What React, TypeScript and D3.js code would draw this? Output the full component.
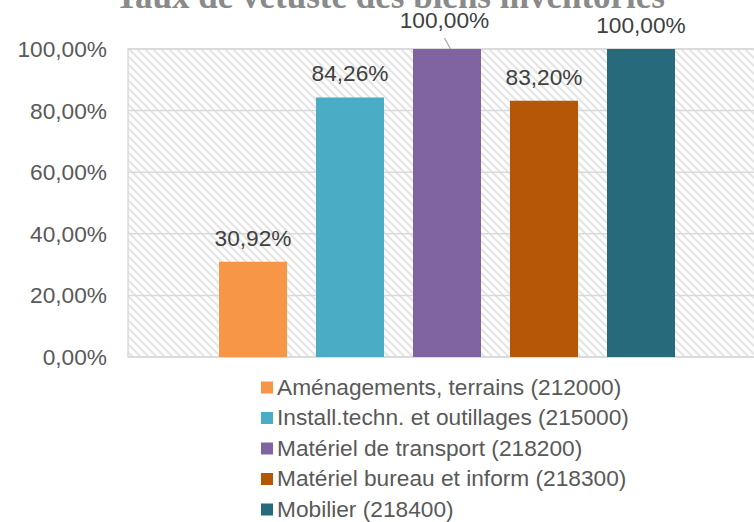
import React from "react";
import * as d3 from "d3";

const series = [
  "Aménagements, terrains (212000)",
  "Install.techn. et outillages (215000)",
  "Matériel de transport (218200)",
  "Matériel bureau et inform (218300)",
  "Mobilier (218400)",
];
const values = [0.3092, 0.8426, 1.0, 0.832, 1.0];
const colors = ["#F79646", "#4BACC6", "#8064A2", "#B65708", "#276A7C"];
const yTicks = [0, 0.2, 0.4, 0.6, 0.8, 1.0];
const title = "Taux de vétusté des biens inventoriés";

const W = 754;
const H = 522;
const plot = { left: 128, right: 767, top: 49, bottom: 357 };
const font = "Arial, 'Liberation Sans', sans-serif";
const fs = 22.7;

const fmt = (v: number) => (v * 100).toFixed(2).replace(".", ",") + "%";

export default function App() {
  const y = d3.scaleLinear().domain([0, 1]).range([plot.bottom, plot.top]);
  const x = d3
    .scaleBand<string>()
    .domain(series)
    .range([204.5, 689.5])
    .paddingInner(29 / 97)
    .paddingOuter(14.5 / 97);

  // the label of the third bar was dragged up in the original, with a leader line
  const nudge = (i: number) => (i === 2 ? { dx: -2.5, dy: -5 } : { dx: 0, dy: 0 });

  return (
    <svg
      width={W}
      height={H}
      style={{ position: "absolute", left: 0, top: 0, background: "#fff" }}
    >
      <defs>
        <pattern id="hatch" width={8} height={8} patternUnits="userSpaceOnUse">
          <rect width={8} height={8} fill="#fff" />
          <path d="M-2,-2 L10,10 M-2,6 L2,10 M6,-2 L10,2" stroke="#e4e4e4" strokeWidth={2} />
        </pattern>
      </defs>

      <text
        x={390}
        y={8}
        textAnchor="middle"
        fontFamily="'Liberation Serif', 'Times New Roman', serif"
        fontWeight="bold"
        fontSize={35}
        fill="#8a8a8a"
      >
        {title}
      </text>

      <rect
        x={plot.left}
        y={plot.top}
        width={plot.right - plot.left}
        height={plot.bottom - plot.top}
        fill="url(#hatch)"
        stroke="#d9d9d9"
        strokeWidth={1.5}
      />

      {yTicks.map((t) => (
        <g key={t}>
          <line
            x1={plot.left}
            x2={plot.right}
            y1={y(t)}
            y2={y(t)}
            stroke="#d9d9d9"
            strokeWidth={1.5}
          />
          <text
            x={107}
            y={y(t) + 8}
            textAnchor="end"
            fontFamily={font}
            fontSize={fs}
            fill="#595959"
          >
            {fmt(t)}
          </text>
        </g>
      ))}

      {series.map((s, i) => {
        const bx = x(s)!;
        const cx = bx + x.bandwidth() / 2;
        const n = nudge(i);
        return (
          <g key={s}>
            <rect
              x={bx}
              y={y(values[i])}
              width={x.bandwidth()}
              height={plot.bottom - y(values[i])}
              fill={colors[i]}
            />
            {n.dy !== 0 && (
              <line
                x1={cx + n.dx}
                y1={y(values[i]) + n.dy - 6}
                x2={cx + 3.5}
                y2={y(values[i])}
                stroke="#a6a6a6"
                strokeWidth={1.2}
              />
            )}
            <text
              x={cx + n.dx}
              y={y(values[i]) - 16 + n.dy}
              textAnchor="middle"
              fontFamily={font}
              fontSize={fs}
              fill="#404040"
            >
              {fmt(values[i])}
            </text>
          </g>
        );
      })}

      {series.map((s, i) => (
        <g key={s} transform={`translate(261, ${387.5 + i * 30.5})`}>
          <rect x={0} y={-6} width={12} height={12} fill={colors[i]} />
          <text x={16} y={7} fontFamily={font} fontSize={fs} fill="#595959">
            {s}
          </text>
        </g>
      ))}
    </svg>
  );
}
